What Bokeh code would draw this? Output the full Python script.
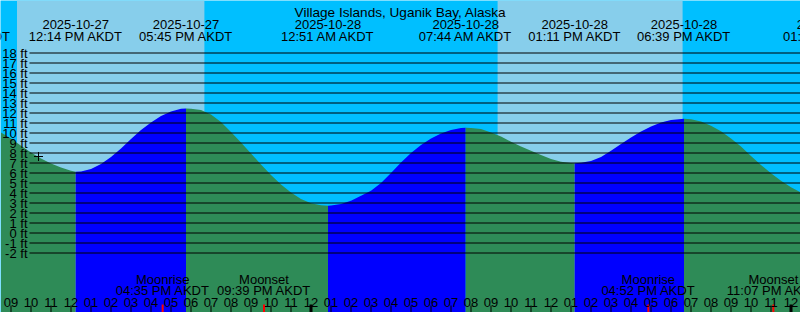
import numpy as np
from bokeh.plotting import figure
from bokeh.models import Range1d
from bokeh.core.properties import value
from bokeh.embed import file_html
from bokeh.resources import INLINE

station = "Village Islands, Uganik Bay, Alaska"

# hours after 2025-10-27 00:00 AKDT and tide height (ft)
tide_hours = [8.5, 9.0, 9.5, 10.0, 10.5, 11.0, 11.5, 12.0, 12.233, 12.5, 13.0, 13.5,
              14.0, 14.5, 15.0, 15.5, 16.0, 16.5, 17.0, 17.5, 17.75, 18.0, 18.5,
              19.0, 19.5, 20.0, 20.5, 21.0, 21.5, 22.0, 22.5, 23.0, 23.5, 24.0,
              24.5, 24.85, 25.0, 25.5, 26.0, 26.5, 27.0, 27.5, 28.0, 28.5, 29.0,
              29.5, 30.0, 30.5, 31.0, 31.5, 31.733, 32.0, 32.5, 33.0, 33.5, 34.0,
              34.5, 35.0, 35.5, 36.0, 36.5, 37.0, 37.183, 37.5, 38.0, 38.5, 39.0,
              39.5, 40.0, 40.5, 41.0, 41.5, 42.0, 42.65, 43.0, 43.5, 44.0, 44.5,
              45.0, 45.5, 46.0, 46.5, 47.0, 47.5, 48.0, 48.5]
tide_feet = [10.06, 9.46, 8.73, 8.06, 7.46, 6.96, 6.56, 6.23, 6.12, 6.15, 6.4, 6.9,
             7.6, 8.45, 9.4, 10.3, 11.06, 11.7, 12.15, 12.42, 12.46, 12.42, 12.3,
             11.85, 11.1, 10.1, 9.05, 7.95, 6.85, 5.8, 4.85, 4.05, 3.4, 2.98,
             2.78, 2.73, 2.75, 2.9, 3.23, 3.73, 4.23, 5.0, 6.0, 7.05, 8.0,
             8.8, 9.46, 9.96, 10.3, 10.5, 10.53, 10.5, 10.4, 10.06, 9.66, 9.13,
             8.66, 8.23, 7.8, 7.4, 7.13, 7.0, 6.98, 7.02, 7.2, 7.6, 8.23,
             8.9, 9.56, 10.16, 10.66, 11.06, 11.3, 11.43, 11.38, 11.15, 10.72, 10.17,
             9.46, 8.65, 7.7, 6.8, 5.98, 5.22, 4.58, 4.06]

# tide extremes
extreme_hours = [6.675, 12.233, 17.75, 24.85, 31.733, 37.183, 42.65, 49.95]
extreme_types = ["High", "Low", "High", "Low", "High", "Low", "High", "Low"]
extreme_dates = ["2025-10-27", "2025-10-27", "2025-10-27", "2025-10-28",
                 "2025-10-28", "2025-10-28", "2025-10-28", "2025-10-29"]
extreme_times = ["06:40 AM AKDT", "12:14 PM AKDT", "05:45 PM AKDT", "12:51 AM AKDT",
                 "07:44 AM AKDT", "01:11 PM AKDT", "06:39 PM AKDT", "01:17 AM AKDT"]

# sun
sunrise_hours = [9.3, 33.33]
sunset_hours = [18.67, 42.58]

# moon
moon_hours = [16.583, 21.65, 40.867, 47.117]
moon_events = ["Moonrise", "Moonset", "Moonrise", "Moonset"]
moon_times = ["04:35 PM AKDT", "09:39 PM AKDT", "04:52 PM AKDT", "11:07 PM AKDT"]

# hour ticks
hour_ticks = list(range(9, 49))
hour_labels = [f"{(h - 1) % 12 + 1:02d}" for h in hour_ticks]
midnight_hours = [24, 48]

# height levels
levels = list(range(-2, 19))
level_labels = [f"{v} ft" for v in levels]

# current time marker
now_hour = 10.375
now_feet = 7.65

# ---------------- layout ----------------
W, H = 800, 312
X0, X1 = 8.475, 48.475
Y0, Y1 = -7.95, 23.25
FONT = value("Liberation Sans")
SKY_DAY = "#87CEEB"
SKY_NIGHT = "#00BFFF"
RISING = "#0000FF"
FALLING = "#2E8B57"

px_x = (X1 - X0) / W      # hours per pixel
px_y = (Y1 - Y0) / H      # feet per pixel


def y_at(py):
    return Y1 - py * px_y


def x_at(px):
    return X0 + px * px_x


p = figure(width=W, height=H, x_range=Range1d(X0, X1), y_range=Range1d(Y0, Y1),
           output_backend="svg", toolbar_location=None, min_border=0,
           x_axis_location=None, y_axis_location=None,
           background_fill_color=SKY_NIGHT, border_fill_color=SKY_NIGHT)
p.outline_line_color = None
p.xgrid.visible = False
p.ygrid.visible = False

# daylight
p.quad(left=sunrise_hours, right=sunset_hours, top=Y1, bottom=Y0,
       fill_color=SKY_DAY, line_color=None)

# water, colored rising / falling
th = np.array(tide_hours)
tf = np.array(tide_feet)
for i in range(len(extreme_hours) - 1):
    a, b = extreme_hours[i], extreme_hours[i + 1]
    m = (th >= a) & (th <= b)
    if m.sum() < 2:
        continue
    color = RISING if extreme_types[i] == "Low" else FALLING
    p.varea(x=th[m], y1=Y0, y2=tf[m], fill_color=color)

# level lines
line_start = x_at(29)
p.segment(x0=[line_start] * len(levels), x1=[X1] * len(levels), y0=levels, y1=levels,
          line_color="black", line_width=1)

# level labels
p.text(x=[x_at(27)] * len(levels), y=levels, text=level_labels, text_font=FONT,
       text_font_size="13px", text_align="right", text_baseline="middle",
       text_color="black")

# hour ticks
p.segment(x0=hour_ticks, x1=hour_ticks, y0=Y0, y1=y_at(305), line_color="black",
          line_width=1)
p.segment(x0=midnight_hours, x1=midnight_hours, y0=Y0, y1=y_at(304),
          line_color="black", line_width=3)
p.segment(x0=moon_hours, x1=moon_hours, y0=Y0, y1=y_at(304), line_color="red",
          line_width=2)
p.text(x=hour_ticks, y=y_at(301.5), text=hour_labels, text_font=FONT,
       text_font_size="13px", text_align="center", text_baseline="alphabetic",
       text_color="black")

# moon labels
p.text(x=moon_hours, y=y_at(278.5), text=moon_events, text_font=FONT,
       text_font_size="13px", text_align="center", text_baseline="alphabetic")
p.text(x=moon_hours, y=y_at(290), text=moon_times, text_font=FONT,
       text_font_size="13px", text_align="center", text_baseline="alphabetic")

# extreme labels
p.text(x=extreme_hours, y=y_at(24), text=extreme_dates, text_font=FONT,
       text_font_size="13px", text_align="center", text_baseline="alphabetic")
p.text(x=extreme_hours, y=y_at(35.5), text=extreme_times, text_font=FONT,
       text_font_size="13px", text_align="center", text_baseline="alphabetic")

# title
p.text(x=[(X0 + X1) / 2], y=[y_at(11.5)], text=[station], text_font=FONT,
       text_font_size="13.6px", text_align="center", text_baseline="alphabetic")

# now marker
p.scatter(x=[now_hour], y=[now_feet], marker="cross", size=9, line_color="black",
          line_width=1)

open("out.html", "w").write(file_html(p, INLINE))
